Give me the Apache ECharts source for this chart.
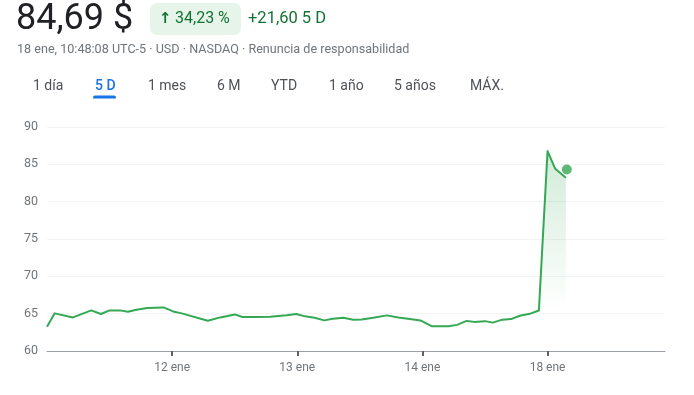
<!DOCTYPE html>
<html>
<head>
<meta charset="utf-8">
<script src="https://cdn.jsdelivr.net/npm/echarts@6/dist/echarts.min.js"></script>
<style>
html,body{margin:0;padding:0;background:#fff;}
#c{width:694px;height:395px;}
</style>
</head>
<body>
<div id="c"></div>
<script>
// time positions in half-hour trading slots from 11 ene open (13 slots per day)
const times = [0,0.8,2.7,4.6,5.6,6.5,7.6,8.4,9.3,10.4,12.1,13.1,14.0,16.7,18.0,19.5,20.3,21.8,23.2,24.9,25.9,26.8,27.8,28.8,29.7,30.8,31.8,32.7,33.9,35.3,36.5,37.7,38.8,40.0,41.7,42.6,43.6,44.4,45.5,46.3,47.3,48.2,49.2,50.2,51.1,52.0,52.8,53.9];
const prices = [63.25,65.04,64.5,65.44,64.95,65.44,65.44,65.26,65.52,65.75,65.84,65.3,65.04,64.05,64.5,64.9,64.55,64.55,64.6,64.8,64.95,64.64,64.45,64.1,64.32,64.45,64.19,64.23,64.45,64.77,64.5,64.28,64.1,63.3,63.3,63.5,64.03,63.9,64.0,63.8,64.2,64.27,64.76,65.0,65.43,86.78,84.4,83.2];
const todayStart = 44;            // first point of the shaded segment
const currentPoint = [54.0, 84.3]; // live price marker
const tickPositions = [13, 26, 39, 52];
const tickLabels = ['12 ene', '13 ene', '14 ene', '18 ene'];
const tabs = ['1 día', '5 D', '1 mes', '6 M', 'YTD', '1 año', '5 años', 'MÁX.'];
const tabX = [33, 95, 148, 217, 271, 329, 394, 470];

const lineData = times.map((t, i) => [t, prices[i]]);
const areaData = lineData.slice(todayStart);

const green = '#34a853';
const font = 'Roboto, Arial, sans-serif';

const graphics = [
  { type: 'text', left: 16, top: 2, style: { text: '84,69 $', font: '36px ' + font, fill: '#202124' } },
  { type: 'rect', shape: { x: 150, y: 3, width: 91, height: 32, r: 7 }, style: { fill: '#e6f4ea' } },
  { type: 'text', x: 159, y: 19.5, style: { text: '↑', font: 'bold 15px "DejaVu Sans", sans-serif', fill: '#137333', verticalAlign: 'middle' } },
  { type: 'text', x: 175, y: 19, style: { text: '34,23 %', font: '16px ' + font, fill: '#137333', verticalAlign: 'middle' } },
  { type: 'text', x: 248, y: 19, style: { text: '+21,60 5 D', font: '16.5px ' + font, fill: '#137333', verticalAlign: 'middle' } },
  { type: 'text', x: 17, y: 50, style: { text: '18 ene, 10:48:08 UTC-5 · USD · NASDAQ · Renuncia de responsabilidad', font: '12.6px ' + font, fill: '#70757a', verticalAlign: 'middle' } },
  { type: 'rect', shape: { x: 93, y: 95.5, width: 23, height: 3, r: [2, 2, 0, 0] }, style: { fill: '#1a73e8' } }
];
tabs.forEach((t, i) => {
  graphics.push({ type: 'text', x: tabX[i], y: 86.5, style: { text: t, font: (i === 1 ? '500 ' : '') + '14px ' + font, fill: i === 1 ? '#1a73e8' : '#4d5156', verticalAlign: 'middle' } });
});

const chart = echarts.init(document.getElementById('c'), null, { renderer: 'canvas' });
chart.setOption({
  animation: false,
  backgroundColor: '#fff',
  graphic: graphics,
  grid: { left: 47, right: 29, top: 127, bottom: 44 },
  xAxis: {
    type: 'value', min: 0, max: 64.2,
    axisLine: { lineStyle: { color: '#9aa0a6', width: 1 } },
    axisTick: { show: true, length: 5, lineStyle: { color: '#5f6368', width: 2 }, customValues: tickPositions },
    axisLabel: {
      customValues: tickPositions, margin: 11,
      color: '#70757a', fontFamily: font, fontSize: 12,
      formatter: v => tickLabels[tickPositions.indexOf(Math.round(v))] || ''
    },
    splitLine: { show: false }
  },
  yAxis: {
    type: 'value', min: 60, max: 90, interval: 5,
    axisLine: { show: false }, axisTick: { show: false },
    axisLabel: { margin: 9, color: '#70757a', fontFamily: font, fontSize: 12.5 },
    splitLine: { lineStyle: { color: '#f1f3f4', width: 1 } }
  },
  series: [
    {
      type: 'line', data: areaData, symbol: 'none', silent: true,
      lineStyle: { width: 0 },
      areaStyle: {
        origin: 'start',
        color: new echarts.graphic.LinearGradient(0, 0, 0, 1, [
          { offset: 0, color: 'rgba(52,168,83,0.32)' },
          { offset: 0.8, color: 'rgba(52,168,83,0)' }
        ])
      },
      z: 1
    },
    {
      type: 'line', data: lineData, symbol: 'none',
      lineStyle: { color: green, width: 2, join: 'round' },
      z: 3
    },
    {
      type: 'scatter', data: [currentPoint], symbol: 'circle', symbolSize: 10,
      itemStyle: { color: green }, z: 4
    }
  ]
});
</script>
</body>
</html>
